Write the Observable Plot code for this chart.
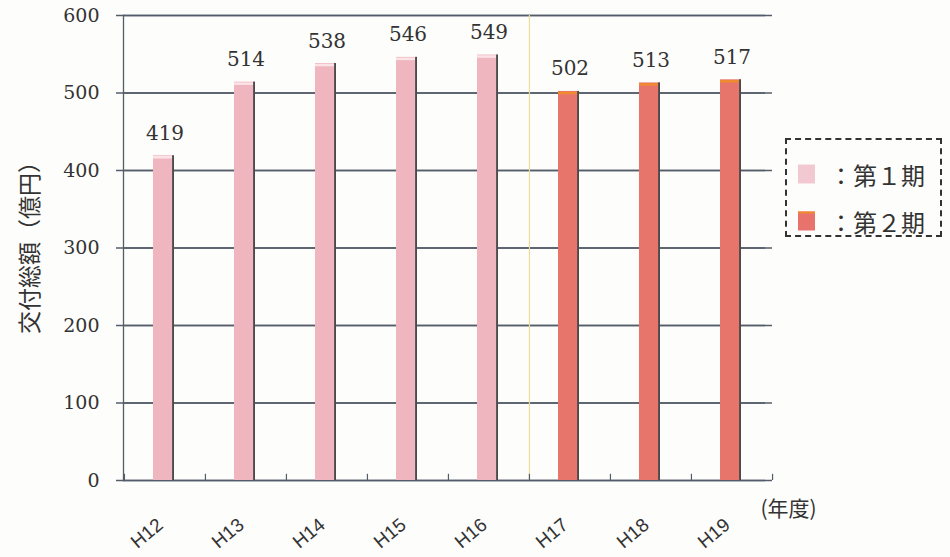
<!DOCTYPE html>
<html>
<head>
<meta charset="utf-8">
<script src="https://cdn.jsdelivr.net/npm/d3@7"></script>
<script src="https://cdn.jsdelivr.net/npm/@observablehq/plot@0.6"></script>
<style>
  html, body { margin: 0; padding: 0; background: #fdfdfb; }
  #wrap { position: relative; width: 950px; height: 557px; }
  #legend {
    position: absolute; left: 785px; top: 138px; width: 157px; height: 99px;
    border: 2px dashed #333; box-sizing: border-box;
    font-family: "Noto Sans CJK JP", sans-serif; font-size: 24px; color: #333;
  }
  .item { position: absolute; left: 11px; display: flex; align-items: center; transform: translateY(-50%); }
  .sw { width: 17px; height: 19px; margin-right: 14px; box-sizing: border-box; }
</style>
</head>
<body>
<div id="wrap"></div>
<script>
const categories = ["H12", "H13", "H14", "H15", "H16", "H17", "H18", "H19"];
const values = [419, 514, 538, 546, 549, 502, 513, 517];
const periods = ["第1期", "第1期", "第1期", "第1期", "第1期", "第2期", "第2期", "第2期"];
const periodNames = ["第1期", "第2期"];
const legendLabels = ["：第１期", "：第２期"];
const yTicks = [0, 100, 200, 300, 400, 500, 600];
const yLabel = "交付総額（億円）";
const xUnit = "(年度)";

const colors = ["#f0b6c0", "#e8756b"];
const topColors = ["#fbe3e7", "#f08a2e"];
const swatchColors = ["#f3c9d1", "#e8736c"];
const grid = "#535d68";

const data = categories.map((c, i) => ({year: c, value: values[i], period: periods[i]}));

const W = 950, H = 557, ML = 123, MR = 178, MT = 15, MB = 77;
const bw = (W - ML - MR) / categories.length;

const chart = Plot.plot({
  width: W, height: H,
  marginLeft: ML, marginRight: MR, marginTop: MT, marginBottom: MB,
  style: {background: "transparent"},
  x: {domain: categories, padding: 0, axis: null},
  y: {domain: [0, 600], axis: null},
  color: {domain: periodNames, range: colors},
  marks: [
    Plot.ruleY(yTicks, {stroke: grid, strokeWidth: 1.3}),
    Plot.ruleY(yTicks, {stroke: grid, strokeWidth: 1.3, dx: -7}),
    Plot.text(yTicks, {y: d => d, text: d => String(d), frameAnchor: "left", dx: -24, textAnchor: "end",
      fontSize: 19, fontFamily: "DejaVu Serif, serif", fill: "#333"}),
    Plot.frame({anchor: "left", stroke: grid, strokeWidth: 1.3}),
    Plot.ruleX(["H17"], {dx: -bw / 2, stroke: "#ecdc9e", strokeWidth: 1.2}),
    Plot.ruleX(categories, {y1: 0, y2: 8, dx: -bw / 2, stroke: grid, strokeWidth: 1.2}),
    Plot.ruleX(categories.slice(-1), {y1: 0, y2: 8, dx: bw / 2, stroke: grid, strokeWidth: 1.2}),
    Plot.barY(data, {x: "year", y: "value", fill: "period", insetLeft: 29, insetRight: 31}),
    Plot.barY(data, {x: "year", y: "value", fill: "#4a4a4a", insetLeft: bw - 33, insetRight: 31}),
    Plot.tickY(data, {x: "year", y: "value", stroke: d => topColors[periodNames.indexOf(d.period)],
      strokeWidth: 2.5, insetLeft: 29, insetRight: 33, dy: 1.5}),
    Plot.text(data, {x: "year", y: "value", text: d => String(d.value), dy: -16, lineAnchor: "bottom",
      fontSize: 20, fontFamily: "DejaVu Serif, serif", fill: "#333"}),
    Plot.text(categories, {x: d => d, y: () => 0, text: d => d, dx: -18, dy: 53, rotate: -40,
      textAnchor: "middle", lineAnchor: "middle", fontSize: 19, fontFamily: "Liberation Sans, Arial, sans-serif",
      fill: "#333"}),
    Plot.text([yLabel], {frameAnchor: "left", dx: -93, dy: -6, rotate: -90, textAnchor: "middle", fontSize: 23,
      fontFamily: "Noto Sans CJK JP, sans-serif", fill: "#333"}),
    Plot.text([xUnit], {frameAnchor: "bottom-right", dx: -12, dy: 35, textAnchor: "start", fontSize: 21,
      fontFamily: "Noto Sans CJK JP, sans-serif", fill: "#333"})
  ]
});

const wrap = document.getElementById("wrap");
wrap.appendChild(chart);

const legend = document.createElement("div");
legend.id = "legend";
legendLabels.forEach((lab, i) => {
  const it = document.createElement("div");
  it.className = "item";
  it.style.top = (i === 0 ? 34 : 81) + "px";
  const sw = document.createElement("div");
  sw.className = "sw";
  sw.style.background = swatchColors[i];
  if (i === 1) sw.style.borderTop = "2px solid " + topColors[1];
  const tx = document.createElement("span");
  tx.textContent = lab;
  it.appendChild(sw); it.appendChild(tx);
  legend.appendChild(it);
});
wrap.appendChild(legend);
</script>
</body>
</html>
